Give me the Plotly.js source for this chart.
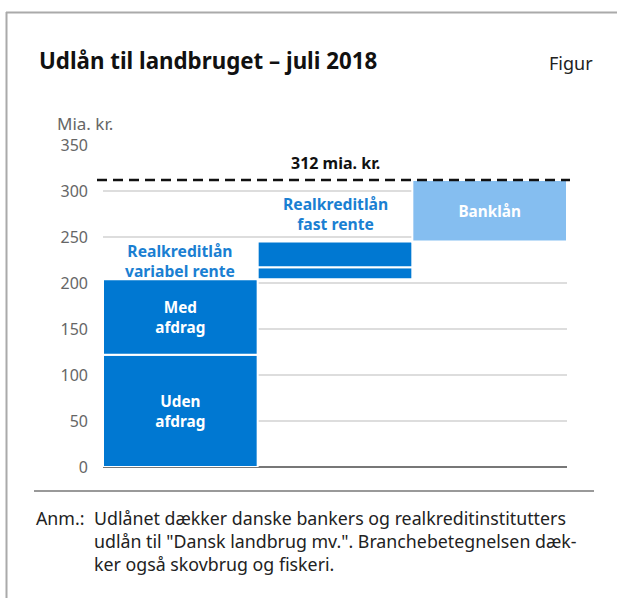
<!DOCTYPE html>
<html>
<head>
<meta charset="utf-8">
<script src="https://cdn.plot.ly/plotly-3.0.1.min.js"></script>
<style>
  html, body { margin: 0; padding: 0; background: #fff; }
  #chart { width: 619px; height: 598px; }
</style>
</head>
<body>
<div id="chart"></div>
<script>
// ---- Data ----
const categories = ['Realkreditlån variabel rente', 'Realkreditlån fast rente', 'Banklån'];
const columnLabels = ['Realkreditlån<br>variabel rente', 'Realkreditlån<br>fast rente', ''];
const segmentCategory = [0, 0, 1, 1, 2];
const segmentValues = [122, 82, 13, 28, 67];
const segmentLabels = ['Uden<br>afdrag', 'Med<br>afdrag', '', '', 'Banklån'];
const totalValue = 312;
const totalLabel = '312 mia. kr.';
const yTicks = [0, 50, 100, 150, 200, 250, 300, 350];
const titleText = 'Udlån til landbruget – juli 2018';
const figureTag = 'Figur';
const unitLabel = 'Mia. kr.';
const noteLead = 'Anm.:';
const noteLines = [
  'Udlånet dækker danske bankers og realkreditinstitutters',
  'udlån til "Dansk landbrug mv.". Branchebetegnelsen dæk-',
  'ker også skovbrug og fiskeri.'
];

// ---- Derived (waterfall bases) ----
const bases = [];
let run = 0;
segmentValues.forEach(v => { bases.push(run); run += v; });
const tops = segmentValues.map((v, i) => bases[i] + v);
const segX = segmentCategory.map(i => categories[i]);
function colTop(ci) {
  let t = 0;
  segmentCategory.forEach((c, i) => { if (c === ci) t = Math.max(t, tops[i]); });
  return t;
}

// ---- Style ----
const DARK = '#0078d2';
const LIGHT = '#85bef0';
const LABEL_BLUE = '#1a7fd2';
const FONT = 'Noto Sans, Open Sans, sans-serif';
const segColors = segmentCategory.map(c => c === 2 ? LIGHT : DARK);

const W = 619, H = 598;
const L = 103, R = 52, T = 145, B = 131;
const PW = W - L - R, PH = H - T - B;
const xp = px => (px - L) / PW;
const yp = py => (H - B - py) / PH;

const trace = {
  type: 'bar',
  x: segX,
  y: segmentValues,
  base: bases,
  text: segmentLabels,
  textposition: 'inside',
  insidetextanchor: 'middle',
  textangle: 0,
  constraintext: 'none',
  textfont: { family: FONT, size: 15.3, color: '#ffffff', weight: 'bold' },
  marker: { color: segColors, line: { color: '#ffffff', width: 2 } },
  hoverinfo: 'none',
  showlegend: false
};

const annotations = [];
// column labels
categories.forEach((c, ci) => {
  if (!columnLabels[ci]) return;
  annotations.push({
    x: c, y: colTop(ci), xref: 'x', yref: 'y',
    xanchor: 'center', yanchor: 'bottom', yshift: ci === 0 ? -5 : 5,
    text: columnLabels[ci], showarrow: false, align: 'center',
    font: { family: FONT, size: 15.7, color: LABEL_BLUE, weight: 'bold' }
  });
});
// total label
annotations.push({
  x: categories[1], y: totalValue, xref: 'x', yref: 'y',
  xanchor: 'center', yanchor: 'bottom', yshift: 4,
  text: totalLabel, showarrow: false,
  font: { family: FONT, size: 16, color: '#111111', weight: 'bold' }
});
// title etc.
annotations.push({
  x: xp(37), y: yp(60), xref: 'paper', yref: 'paper', xanchor: 'left', yanchor: 'middle',
  text: '<b>' + titleText + '</b>', showarrow: false,
  font: { family: FONT, size: 22.3, color: '#111111' }
});
annotations.push({
  x: xp(595), y: yp(63), xref: 'paper', yref: 'paper', xanchor: 'right', yanchor: 'middle',
  text: figureTag, showarrow: false,
  font: { family: FONT, size: 18, color: '#222222' }
});
annotations.push({
  x: xp(55), y: yp(124), xref: 'paper', yref: 'paper', xanchor: 'left', yanchor: 'middle',
  text: unitLabel, showarrow: false,
  font: { family: FONT, size: 17, color: '#666666' }
});
annotations.push({
  x: xp(34), y: yp(518), xref: 'paper', yref: 'paper', xanchor: 'left', yanchor: 'middle',
  text: noteLead, showarrow: false,
  font: { family: FONT, size: 17.8, color: '#222222' }
});
noteLines.forEach((ln, i) => {
  annotations.push({
    x: xp(92), y: yp(518 + 23 * i), xref: 'paper', yref: 'paper', xanchor: 'left', yanchor: 'middle',
    text: ln, showarrow: false,
    font: { family: FONT, size: 17.8, color: '#222222' }
  });
});

const shapes = [
  // dashed total line
  { type: 'line', xref: 'paper', yref: 'y', x0: xp(97), x1: xp(570), y0: totalValue, y1: totalValue,
    line: { color: '#111111', width: 2.5, dash: '10px,6px' }, layer: 'above' },
  // frame
  { type: 'line', xref: 'paper', yref: 'paper', x0: xp(6.5), x1: xp(6.5), y0: yp(12), y1: yp(600),
    line: { color: '#aaaaaa', width: 2 } },
  { type: 'line', xref: 'paper', yref: 'paper', x0: xp(6), x1: xp(617), y0: yp(12.5), y1: yp(12.5),
    line: { color: '#aaaaaa', width: 2 } },
  // footer rule
  { type: 'line', xref: 'paper', yref: 'paper', x0: xp(34), x1: xp(594), y0: yp(491), y1: yp(491),
    line: { color: '#999999', width: 2 } }
];

const layout = {
  width: W, height: H,
  margin: { l: L, r: R, t: T, b: B, pad: 0 },
  paper_bgcolor: '#ffffff', plot_bgcolor: '#ffffff',
  barmode: 'overlay', bargap: 0,
  showlegend: false,
  font: { family: FONT },
  xaxis: {
    type: 'category', categoryorder: 'array', categoryarray: categories,
    showticklabels: false, showgrid: false, zeroline: false, showline: false, ticks: '',
    fixedrange: true
  },
  yaxis: {
    range: [0, 350], tickvals: yTicks, ticktext: yTicks.map(String),
    showgrid: true, gridcolor: '#dddddd', gridwidth: 2,
    zeroline: true, zerolinecolor: '#777777', zerolinewidth: 2,
    showline: false, ticks: '', ticklabelstandoff: 14,
    tickfont: { family: FONT, size: 16, color: '#666666' },
    fixedrange: true
  },
  annotations: annotations,
  shapes: shapes
};

Plotly.newPlot('chart', [trace], layout, { displayModeBar: false, staticPlot: true });
</script>
</body>
</html>
